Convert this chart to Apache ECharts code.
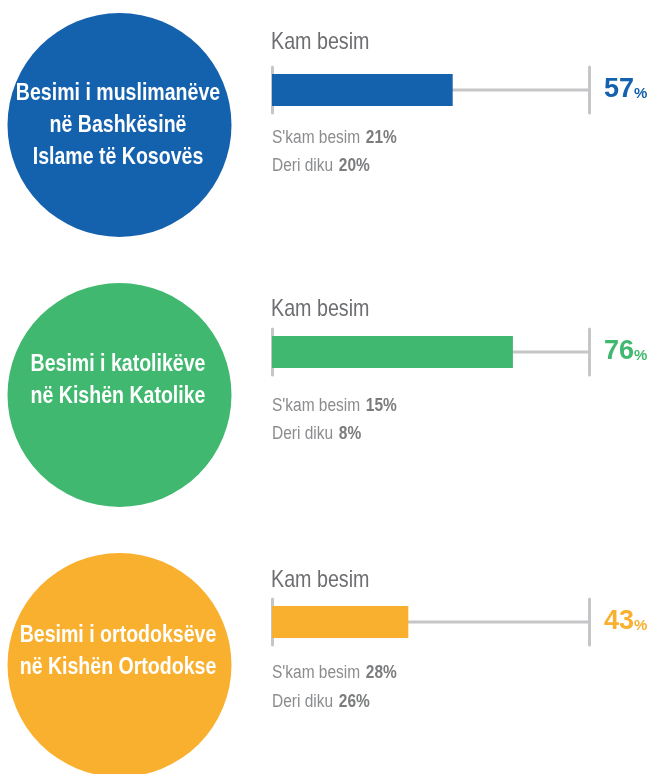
<!DOCTYPE html>
<html>
<head>
<meta charset="utf-8">
<style>
  html, body { margin: 0; padding: 0; background: #fff; }
  #chart { width: 648px; height: 774px; }
</style>
<script src="https://cdn.jsdelivr.net/npm/echarts@6/dist/echarts.min.js"></script>
</head>
<body>
<div id="chart"></div>
<script>
// data
const groups = [
  'Besimi i muslimanëve\nnë Bashkësinë\nIslame të Kosovës',
  'Besimi i katolikëve\nnë Kishën Katolike',
  'Besimi i ortodoksëve\nnë Kishën Ortodokse',
]
const trustValues = [57, 76, 43]      // Kam besim
const noTrustValues = [21, 15, 28]    // S'kam besim
const partlyValues = [20, 8, 26]      // Deri diku
const category = ['Kam besim']
const subLabels = ["S'kam besim", 'Deri diku']

// layout / style
const colors = ['#1461ad', '#41b86f', '#f9b02f']
const rowCenters = [90, 352, 622]
const headY = [42, 309, 580]
const subY = [[138, 166], [406, 434], [673, 702]]
const circleCenters = [125, 395, 665]
const textCenters = [126, 381, 652]
const FONT = "'Liberation Sans', Arial, sans-serif"
const GRAY = '#6d6e71'
const LINE = '#c6c6c8'

const chart = echarts.init(document.getElementById('chart'))

const grids = [], xAxes = [], yAxes = [], series = [], graphics = []

// condensed look: squeeze text horizontally
function condensed(x, y, style, sx) {
  return { type: 'text', x: x, y: y, scaleX: sx, silent: true, style: style }
}

groups.forEach((name, i) => {
  const c = rowCenters[i]
  grids.push({ left: 272, width: 317, top: c - 23, height: 46 })
  xAxes.push({ type: 'value', gridIndex: i, min: 0, max: 100, show: false })
  yAxes.push({
    type: 'category', gridIndex: i, data: category, position: 'left',
    axisLine: { show: true, lineStyle: { color: LINE, width: 3 } },
    axisTick: { show: false }, axisLabel: { show: false },
  })
  yAxes.push({
    type: 'category', gridIndex: i, data: category, position: 'right',
    axisLine: { show: true, lineStyle: { color: LINE, width: 3 } },
    axisTick: { show: false }, axisLabel: { show: false },
  })
  // thin track to 100% (own axis so it stays centred)
  series.push({
    type: 'bar', xAxisIndex: i, yAxisIndex: i * 2 + 1,
    data: [100], barWidth: 3, z: 1, silent: true,
    itemStyle: { color: LINE },
    label: {
      show: true, position: 'right', distance: 15,
      formatter: () => '{v|' + trustValues[i] + '}{p|%}',
      rich: {
        v: { fontFamily: FONT, fontSize: 27, fontWeight: 'bold', color: colors[i] },
        p: { fontFamily: FONT, fontSize: 15, fontWeight: 'bold', color: colors[i], padding: [8, 0, 0, 0] },
      },
    },
  })
  series.push({
    type: 'bar', xAxisIndex: i, yAxisIndex: i * 2,
    data: [trustValues[i]], barWidth: 32, z: 2,
    itemStyle: { color: colors[i] },
  })

  graphics.push(condensed(271, headY[i], {
    text: category[0], fill: GRAY, font: '24px ' + FONT,
    align: 'left', verticalAlign: 'middle',
  }, 0.82))

  const subVals = [noTrustValues[i], partlyValues[i]]
  subLabels.forEach((lab, k) => {
    graphics.push(condensed(272, subY[i][k], {
      text: '{l|' + lab + '}  {b|' + subVals[k] + '%}',
      align: 'left', verticalAlign: 'middle',
      rich: {
        l: { font: '18px ' + FONT, fill: '#8b8c8e' },
        b: { font: 'bold 18px ' + FONT, fill: '#7b7c7e' },
      },
    }, 0.86))
  })

  graphics.push({
    type: 'circle', shape: { cx: 119.5, cy: circleCenters[i], r: 112 },
    style: { fill: colors[i] }, silent: true,
  })
  graphics.push(condensed(118, textCenters[i], {
    text: name, fill: '#fff', font: 'bold 23px ' + FONT,
    align: 'center', verticalAlign: 'middle', lineHeight: 32,
  }, 0.85))
})

chart.setOption({
  animation: false,
  grid: grids,
  xAxis: xAxes,
  yAxis: yAxes,
  series: series,
  graphic: graphics,
})
</script>
</body>
</html>
